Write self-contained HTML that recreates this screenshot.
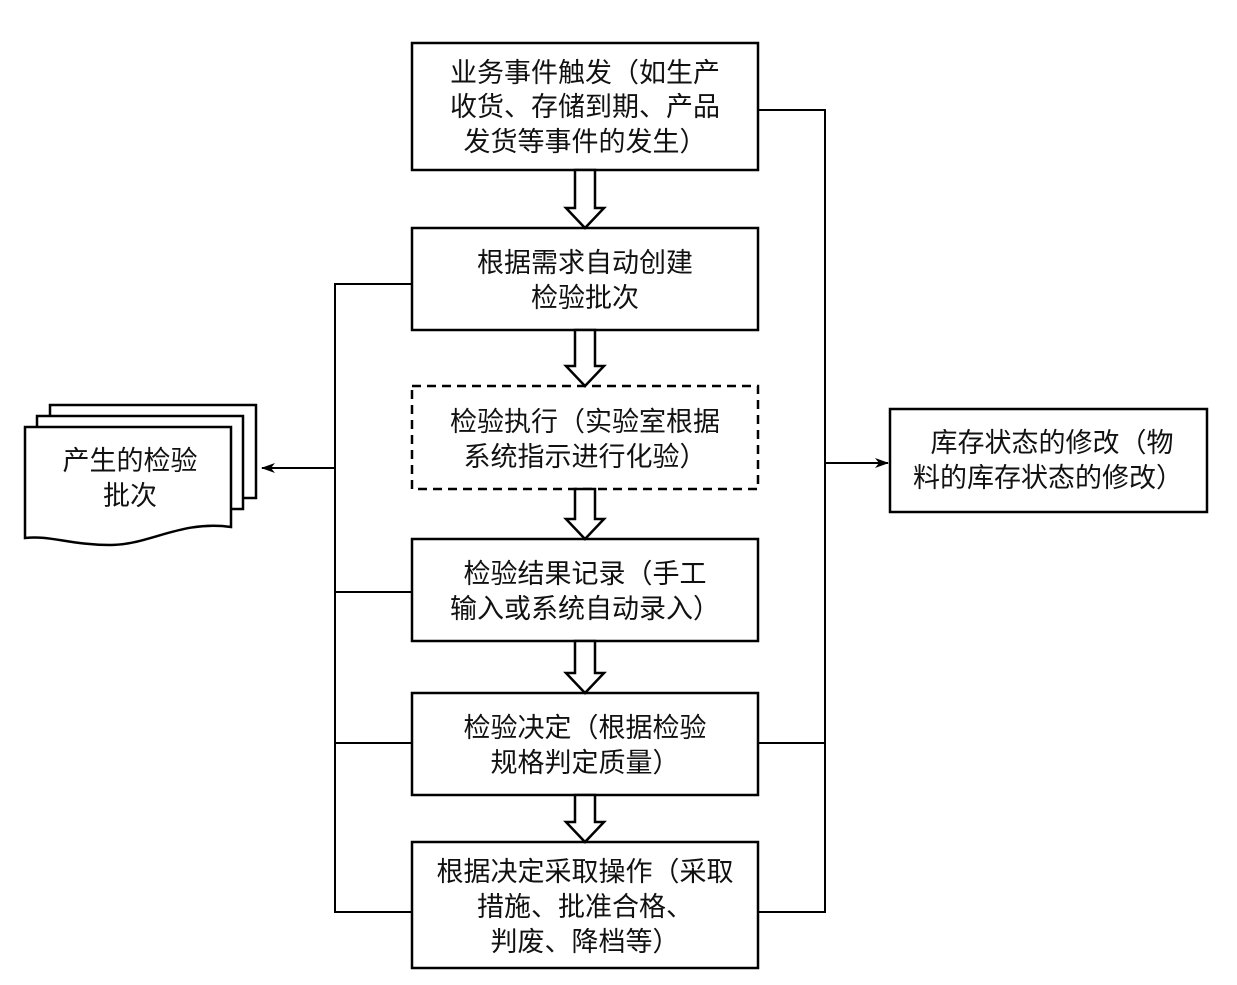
<!DOCTYPE html>
<html><head><meta charset="utf-8"><style>
body{margin:0;background:#fff;width:1237px;height:985px;overflow:hidden}
svg{position:absolute;left:0;top:0}
text{font-family:"Liberation Sans","Noto Sans CJK SC",sans-serif;font-size:27px;fill:#111;text-anchor:middle}
</style></head><body>
<svg width="1237" height="985" viewBox="0 0 1237 985">
<defs><marker id="a" markerWidth="14" markerHeight="10" refX="13" refY="5" orient="auto" markerUnits="userSpaceOnUse"><path d="M0,0 L14,5 L0,10 L4,5Z" fill="#000"/></marker></defs>
<g fill="#fff" stroke="#000" stroke-width="2.5">
<rect x="412" y="43" width="346" height="127"/>
<rect x="412" y="228" width="346" height="102"/>
<rect x="412" y="386" width="346" height="103" stroke-dasharray="9,6"/>
<rect x="412" y="539" width="346" height="102"/>
<rect x="412" y="693" width="346" height="102"/>
<rect x="412" y="842" width="346" height="126"/>
<rect x="890" y="409" width="317" height="103"/>
<rect x="50" y="405" width="206" height="93"/>
<rect x="37" y="416" width="206" height="93"/>
<path d="M25,427 H231 V527 C180,520 150,545 110,545 C70,545 50,535 25,538 Z"/>
</g>
<g fill="none" stroke="#000" stroke-width="2">
<path d="M412,284 H335 V912 H412 M335,592 H412 M335,743 H412"/>
<path d="M758,110 H825 V912 H758 M825,743 H758"/>
<path d="M335,468 H262" marker-end="url(#a)"/>
<path d="M825,463 H888" marker-end="url(#a)"/>
</g>
<g fill="#fff" stroke="#000" stroke-width="2.5">
<path d="M575,170 V208 H566 L585,228 L604,208 H595 V170Z"/>
<path d="M575,330 V366 H566 L585,386 L604,366 H595 V330Z"/>
<path d="M575,489 V519 H566 L585,539 L604,519 H595 V489Z"/>
<path d="M575,641 V673 H566 L585,693 L604,673 H595 V641Z"/>
<path d="M575,795 V822 H566 L585,842 L604,822 H595 V795Z"/>
</g>
<text x="585" y="82">业务事件触发（如生产</text>
<text x="585" y="116">收货、存储到期、产品</text>
<text x="585" y="151">发货等事件的发生）</text>
<text x="585" y="272">根据需求自动创建</text>
<text x="585" y="307">检验批次</text>
<text x="585" y="431">检验执行（实验室根据</text>
<text x="585" y="466">系统指示进行化验）</text>
<text x="585" y="583">检验结果记录（手工</text>
<text x="585" y="618">输入或系统自动录入）</text>
<text x="585" y="737">检验决定（根据检验</text>
<text x="585" y="772">规格判定质量）</text>
<text x="585" y="881">根据决定采取操作（采取</text>
<text x="585" y="916">措施、批准合格、</text>
<text x="585" y="951">判废、降档等）</text>
<text x="1052" y="452">库存状态的修改（物</text>
<text x="1048" y="487">料的库存状态的修改）</text>
<text x="130" y="470">产生的检验</text>
<text x="130" y="505">批次</text>
</svg>
</body></html>
